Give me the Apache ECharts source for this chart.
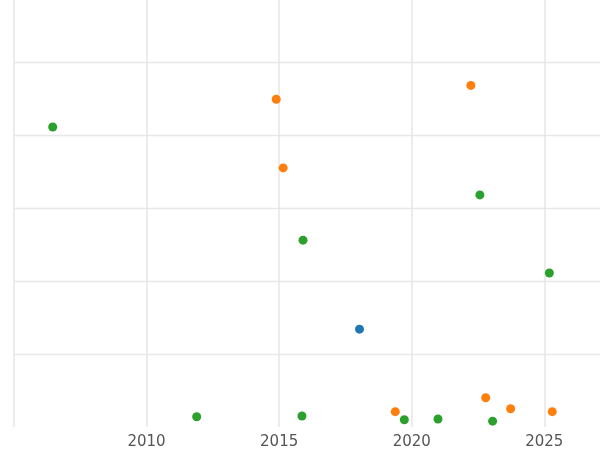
<!DOCTYPE html>
<html><head><meta charset="utf-8">
<script src="https://cdn.jsdelivr.net/npm/echarts@6/dist/echarts.min.js"></script>
<style>html,body{margin:0;padding:0;background:#fff}#c{width:600px;height:450px}</style>
</head><body><div id="c"></div>
<script>
const xTicks = [2005, 2010, 2015, 2020, 2025];
const blueX = [2018.03];
const blueY = [1.34];
const orangeX = [2014.89, 2015.15, 2022.23, 2019.38, 2022.79, 2023.73, 2025.30];
const orangeY = [4.49, 3.55, 4.68, 0.21, 0.40, 0.25, 0.21];
const greenX = [2006.46, 2011.89, 2015.86, 2015.90, 2019.72, 2020.99, 2022.57, 2023.05, 2025.19];
const greenY = [4.11, 0.14, 0.15, 2.56, 0.10, 0.11, 3.18, 0.08, 2.11];
const zip = (a, b) => a.map((v, i) => [v, b[i]]);
const chart = echarts.init(document.getElementById('c'));
const mk = (name, color, xs, ys) => ({name, type:'scatter', symbolSize:9, itemStyle:{color, opacity:1}, data: zip(xs, ys)});
chart.setOption({
  animation:false,
  grid:{left:14, right:-4, top:0, bottom:23},
  xAxis:{type:'value', min:2005, max:2027.1, interval:5,
    axisLine:{show:false}, axisTick:{show:false},
    axisLabel:{color:'#555', fontSize:15, fontFamily:'DejaVu Sans', margin:8, showMaxLabel:false,
      formatter:v => xTicks.includes(v) && v !== 2005 ? String(v) : ''},
    splitLine:{showMaxLine:false, lineStyle:{color:'#e6e6e6', width:1.5}}},
  yAxis:{type:'value', min:0, max:5.85, interval:1,
    axisLine:{show:false}, axisTick:{show:false}, axisLabel:{show:false},
    splitLine:{showMinLine:false, showMaxLine:false, lineStyle:{color:'#e8e8e8', width:1.3}}},
  series:[mk('a','#1f77b4',blueX,blueY), mk('b','#ff7f0e',orangeX,orangeY), mk('c','#2ca02c',greenX,greenY)]
});
</script></body></html>
